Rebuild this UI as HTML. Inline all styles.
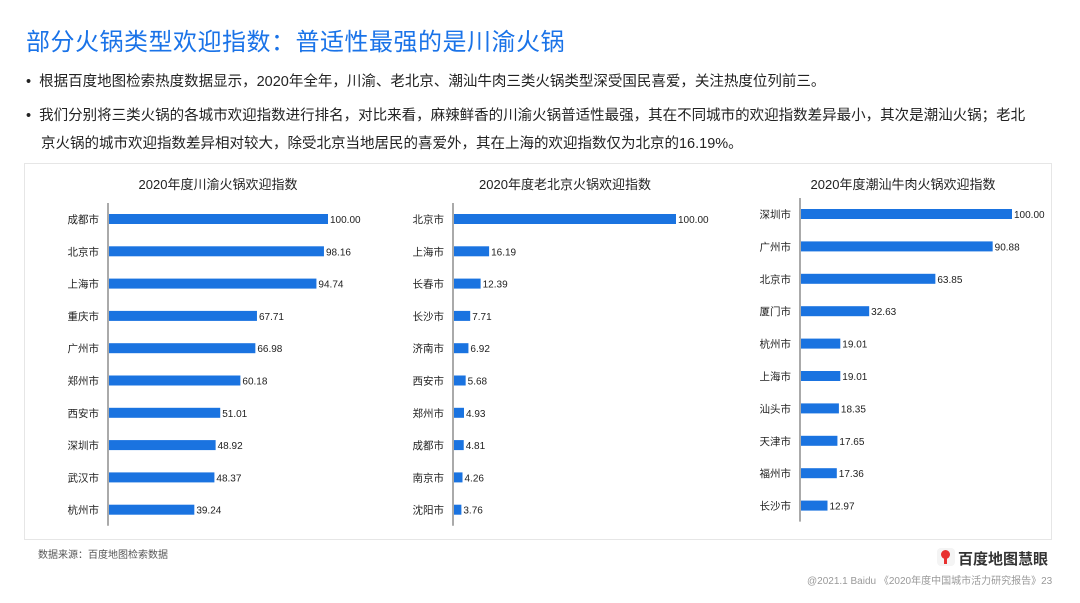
<!DOCTYPE html>
<html><head><meta charset="utf-8">
<style>
body{margin:0;width:1080px;height:603px;background:#fff;font-family:"Liberation Sans","Noto Sans CJK SC",sans-serif;position:relative;overflow:hidden;color:#222}
.abs{position:absolute;white-space:nowrap}
#title{left:26px;top:22px;font-size:24px;color:#1a73e8;letter-spacing:0.5px}
.bul{left:26px;font-size:14.5px;color:#222}
.bul::before{content:"•";margin-right:8px}
#panel{left:24px;top:163px;width:1028px;height:377px;border:1px solid #e6e6e6;box-sizing:border-box}
</style></head><body>
<div class="abs" id="title">部分火锅类型欢迎指数：普适性最强的是川渝火锅</div>
<div class="abs bul" style="top:70px">根据百度地图检索热度数据显示，2020年全年，川渝、老北京、潮汕牛肉三类火锅类型深受国民喜爱，关注热度位列前三。</div>
<div class="abs bul" style="top:104px">我们分别将三类火锅的各城市欢迎指数进行排名，对比来看，麻辣鲜香的川渝火锅普适性最强，其在不同城市的欢迎指数差异最小，其次是潮汕火锅；老北</div>
<div class="abs" style="left:41px;top:132px;font-size:14.5px">京火锅的城市欢迎指数差异相对较大，除受北京当地居民的喜爱外，其在上海的欢迎指数仅为北京的16.19%。</div>
<div class="abs" id="panel"></div>
<svg class="abs" id="chart" style="left:0;top:0" width="1080" height="603"></svg>
<div class="abs" style="left:38px;top:546px;font-size:10px;color:#555">数据来源：百度地图检索数据</div>
<div class="abs" style="left:937px;top:548px;width:18px;height:18px;border-radius:4px;background:#f4f4f4"><div style="position:absolute;left:4px;top:2px;width:9px;height:9px;border-radius:50%;background:#e8312f"></div><div style="position:absolute;left:7px;top:10px;width:3px;height:6px;background:#e8312f"></div></div>
<div class="abs" style="left:958px;top:548px;font-size:15px;font-weight:bold;color:#333">百度地图慧眼</div>
<div class="abs" style="left:807px;top:572px;font-size:10px;color:#999">@2021.1 Baidu 《2020年度中国城市活力研究报告》23</div>
<script>
const titles=["2020年度川渝火锅欢迎指数","2020年度老北京火锅欢迎指数","2020年度潮汕牛肉火锅欢迎指数"];
const cities1=["成都市","北京市","上海市","重庆市","广州市","郑州市","西安市","深圳市","武汉市","杭州市"];
const values1=[100.00,98.16,94.74,67.71,66.98,60.18,51.01,48.92,48.37,39.24];
const cities2=["北京市","上海市","长春市","长沙市","济南市","西安市","郑州市","成都市","南京市","沈阳市"];
const values2=[100.00,16.19,12.39,7.71,6.92,5.68,4.93,4.81,4.26,3.76];
const cities3=["深圳市","广州市","北京市","厦门市","杭州市","上海市","汕头市","天津市","福州市","长沙市"];
const values3=[100.00,90.88,63.85,32.63,19.01,19.01,18.35,17.65,17.36,12.97];
const svg=document.getElementById('chart');
const NS="http://www.w3.org/2000/svg";
function mk(tag,attrs,txt){const e=document.createElementNS(NS,tag);for(const k in attrs)e.setAttribute(k,attrs[k]);if(txt!=null)e.textContent=txt;svg.appendChild(e);return e;}
const panels=[
 {cats:cities1,vals:values1,x0:108,w:220,y0:219,step:32.3,tx:218},
 {cats:cities2,vals:values2,x0:453,w:223,y0:219,step:32.3,tx:565},
 {cats:cities3,vals:values3,x0:800,w:212,y0:214,step:32.4,tx:903}];
panels.forEach((p,pi)=>{
 const xs=v=>p.x0+v/100*p.w;
 const ys=i=>p.y0+i*p.step;
 const t=mk('text',{x:p.tx,y:189,'text-anchor':'middle','font-size':13,fill:'#222'},titles[pi]);
 
 
 const ax=mk('line',{x1:p.x0,x2:p.x0,y1:ys(0)-16,y2:ys(9)+16,stroke:'#555','stroke-width':1});
 
 
 p.cats.forEach((c,i)=>{
  const y=ys(i),v=p.vals[i];
  const l=mk('text',{x:p.x0-9,y:y+4,'text-anchor':'end','font-size':10.5,fill:'#222'},c);
  
  
  const b=mk('rect',{x:p.x0+1,y:y-5,width:xs(v)-p.x0-1,height:10,fill:'#1a73e0'});
  
  
  const vl=mk('text',{x:xs(v)+2,y:y+4,'font-size':10,fill:'#222'},v.toFixed(2));
  
  
 });
});
</script>
</body></html>
